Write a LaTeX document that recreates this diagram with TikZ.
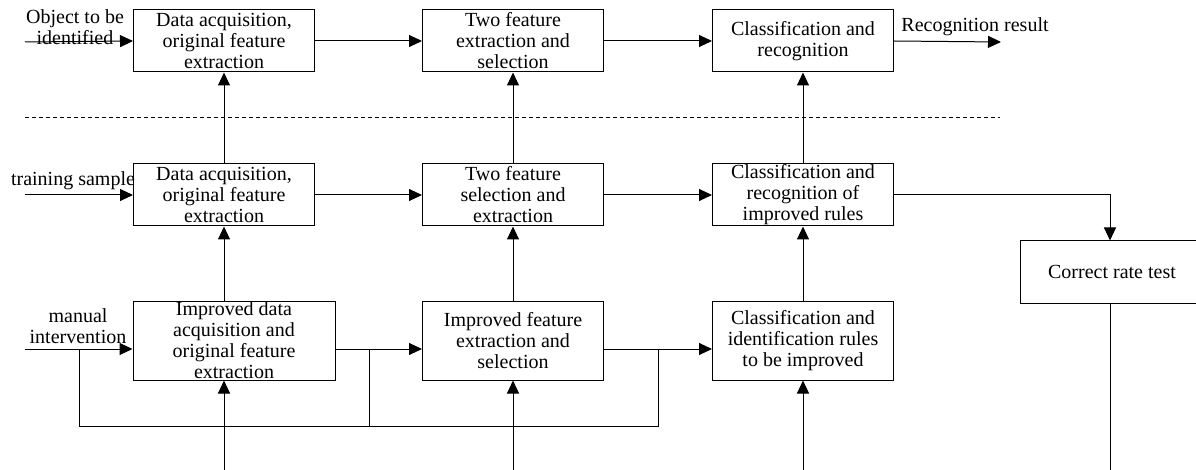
\documentclass[tikz,border=0pt]{standalone}
\usepackage{fontspec}
\setmainfont{Liberation Serif}
\usetikzlibrary{calc}
\usetikzlibrary{arrows.meta}

\begin{document}
\begin{tikzpicture}[x = 1pt, y = -1pt, line width = 1pt,
    block/.style = {draw, align = center, inner sep = 0pt, minimum width = 181pt, minimum height = 62pt, font = \fontsize{20}{21}\selectfont},
    tag/.style = {align = center, inner sep = 0pt, font = \fontsize{20}{21}\selectfont},
    arr/.style = {-{Triangle[length = 13pt, width = 12pt]}}]
          \useasboundingbox (0, 0) rectangle (1196, 470);

          \coordinate (in-1) at (25, 42);
          \coordinate (in-2) at (25, 195);
          \coordinate (in-3) at (25, 349);
          \coordinate (out-1) at (1001, 42);
          \coordinate (dash-l) at (25, 118);
          \coordinate (dash-r) at (1000, 118);
          \coordinate (base-a) at (224, 470);
          \coordinate (base-b) at (513, 470);
          \coordinate (base-c) at (803, 470);
          \coordinate (base-t) at (1110, 470);
          \coordinate (loop-l) at (79, 426);

          \node[block] (acq-1) at (224, 41) {Data acquisition,\\original feature\\extraction};
          \node[block] (feat-1) at (513, 41) {Two feature\\extraction and\\selection};
          \node[block] (cls-1) at (803, 41) {Classification and\\recognition};

          \node[block] (acq-2) at (224, 195) {Data acquisition,\\original feature\\extraction};
          \node[block] (feat-2) at (513, 195) {Two feature\\selection and\\extraction};
          \node[block] (cls-2) at (803, 195) {Classification and\\recognition of\\improved rules};

          \node[block, minimum width = 202pt, minimum height = 79pt] (acq-3) at (234, 340.5) {Improved data\\acquisition and\\original feature\\extraction};
          \node[block, minimum height = 79pt] (feat-3) at (513, 340.5) {Improved feature\\extraction and\\selection};
          \node[block, minimum height = 79pt] (cls-3) at (803, 340.5) {Classification and\\identification rules\\to be improved};

          \node[block, minimum width = 184pt] (test) at (1112, 272) {Correct rate test};

          \node[tag] (obj) at (75, 27) {Object to be\\identified};
          \node[tag] (train) at (73, 181) {training sample};
          \node[tag] (manual) at (78, 326) {manual\\intervention};
          \node[tag] (result) at (975, 27) {Recognition result};

          \draw[dashed, dash pattern = on 4pt off 3pt] (dash-l) -- (dash-r);

          \draw[arr] (in-1) -- (acq-1.west);
          \draw[arr] (acq-1.east) -- (feat-1.west);
          \draw[arr] (feat-1.east) -- (cls-1.west);
          \draw[arr] (cls-1.east) -- (out-1);

          \draw[arr] (in-2) -- (acq-2.west);
          \draw[arr] (acq-2.east) -- (feat-2.west);
          \draw[arr] (feat-2.east) -- (cls-2.west);
          \draw[arr] (cls-2.east) -| (base-t |- test.north);
          \draw (base-t |- test.south) -- (base-t);

          \draw[arr] (in-3) -- (in-3 -| acq-3.west);
          \draw[arr] (in-3 -| acq-3.east) -- (in-3 -| feat-3.west);
          \draw[arr] (in-3 -| feat-3.east) -- (in-3 -| cls-3.west);
          \draw (in-3 -| loop-l) -- (loop-l) -- (loop-l -| 658, 0) -- (658, 349);
          \draw (369, 349) -- (loop-l -| 369, 0);

          \draw[arr] (acq-2.north) -- (acq-1.south);
          \draw[arr] (feat-2.north) -- (feat-1.south);
          \draw[arr] (cls-2.north) -- (cls-1.south);
          \draw[arr] (acq-2.south |- acq-3.north) -- (acq-2.south);
          \draw[arr] (feat-3.north) -- (feat-2.south);
          \draw[arr] (cls-3.north) -- (cls-2.south);

          \draw[arr] (base-a) -- (base-a |- acq-3.south);
          \draw[arr] (base-b) -- (feat-3.south);
          \draw[arr] (base-c) -- (cls-3.south);
        \end{tikzpicture}
\end{document}
